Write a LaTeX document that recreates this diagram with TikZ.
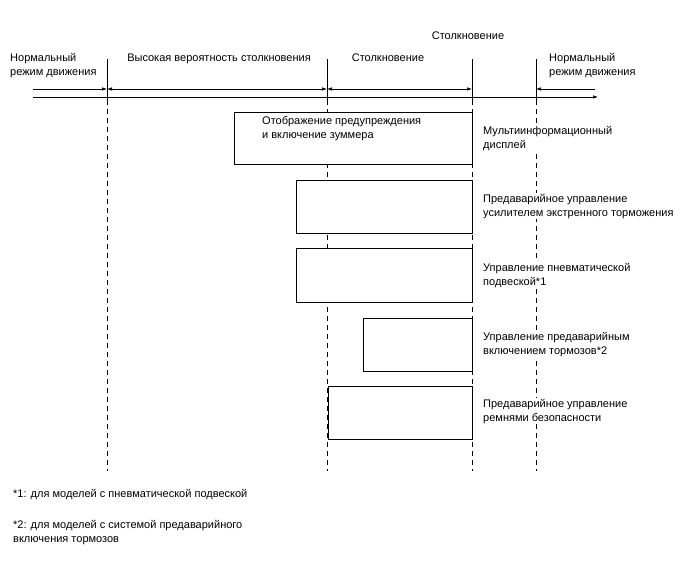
\documentclass[tikz,border=0pt]{standalone}
\usepackage{fontspec}
\setmainfont{Liberation Sans}
\usetikzlibrary{arrows.meta}

\begin{document}
\begin{tikzpicture}[x=1pt, y=-1pt, >={Latex[length=5pt, width=3.5pt]},
    lbl/.style={anchor=base west, inner sep=0pt, align=left, font=\fontsize{11}{14}\selectfont},
    sys/.style={lbl, fill=white, inner sep=1pt},
    box/.style={draw, fill=white, line width=1pt, inner sep=0pt, outer sep=0pt, anchor=north east},
    guide/.style={line width=0.6pt, dash pattern=on 5pt off 4pt}]
  \useasboundingbox (0,0) rectangle (688,560);
  % phase borders
  \foreach \x/\n in {107/a, 327/b, 472/c, 536/d} {
    \coordinate (top-\n) at (\x,59);
    \coordinate (ax-\n) at (\x,89);
    \coordinate (mid-\n) at (\x,100);
    \coordinate (bot-\n) at (\x,471);
    \draw[line width=0.6pt] (top-\n) -- (mid-\n);
    \draw[guide] (mid-\n) -- (bot-\n);
  }
  % time axis and phase arrows
  \coordinate (axs) at (33,97);
  \coordinate (axe) at (598,97);
  \coordinate (ls) at (33,89);
  \coordinate (le) at (595,89);
  \draw[->, line width=0.6pt] (axs) -- (axe);
  \draw[->, line width=0.6pt] (ls) -- (ax-a);
  \draw[<->, line width=0.6pt] (ax-a) -- (ax-b);
  \draw[<->, line width=0.6pt] (ax-b) -- (ax-c);
  \draw[<-, line width=0.6pt] (ax-d) -- (le);
  % phase names (base = last line)
  \node[lbl] (norm1) at (10,75) {Нормальный\\режим движения};
  \node[lbl, anchor=base] (high) at (219,61) {Высокая вероятность столкновения};
  \node[lbl, anchor=base] (coll) at (388,61) {Столкновение};
  \node[lbl, anchor=base] (colltop) at (468,39) {Столкновение};
  \node[lbl] (norm2) at (549,75) {Нормальный\\режим движения};
  % operating periods
  \node[box, minimum width=238pt, minimum height=52pt] (disp) at (472,112) {};
  \node[box, minimum width=176pt, minimum height=53pt] (brake) at (472,180) {};
  \node[box, minimum width=176pt, minimum height=54pt] (susp) at (472,248) {};
  \node[box, minimum width=109pt, minimum height=53pt] (pbrk) at (472,318) {};
  \node[box, minimum width=144pt, minimum height=53pt] (belt) at (472,386) {};
  \node[lbl] (warn) at (262,138) {Отображение предупреждения\\и включение зуммера};
  % systems
  \node[sys] (dispname) at (482,148) {Мультиинформационный\\дисплей};
  \node[sys] (brakename) at (482,216) {Предаварийное управление\\усилителем экстренного торможения};
  \node[sys] (suspname) at (482,285) {Управление пневматической\\подвеской*1};
  \node[sys] (pbrkname) at (482,354) {Управление предаварийным\\включением тормозов*2};
  \node[sys] (beltname) at (482,421) {Предаварийное управление\\ремнями безопасности};
  % notes
  \node[lbl] (note1) at (13,497) {*1: для моделей с пневматической подвеской};
  \node[lbl] (note2) at (13,542) {*2: для моделей с системой предаварийного\\включения тормозов};
\end{tikzpicture}
\end{document}
